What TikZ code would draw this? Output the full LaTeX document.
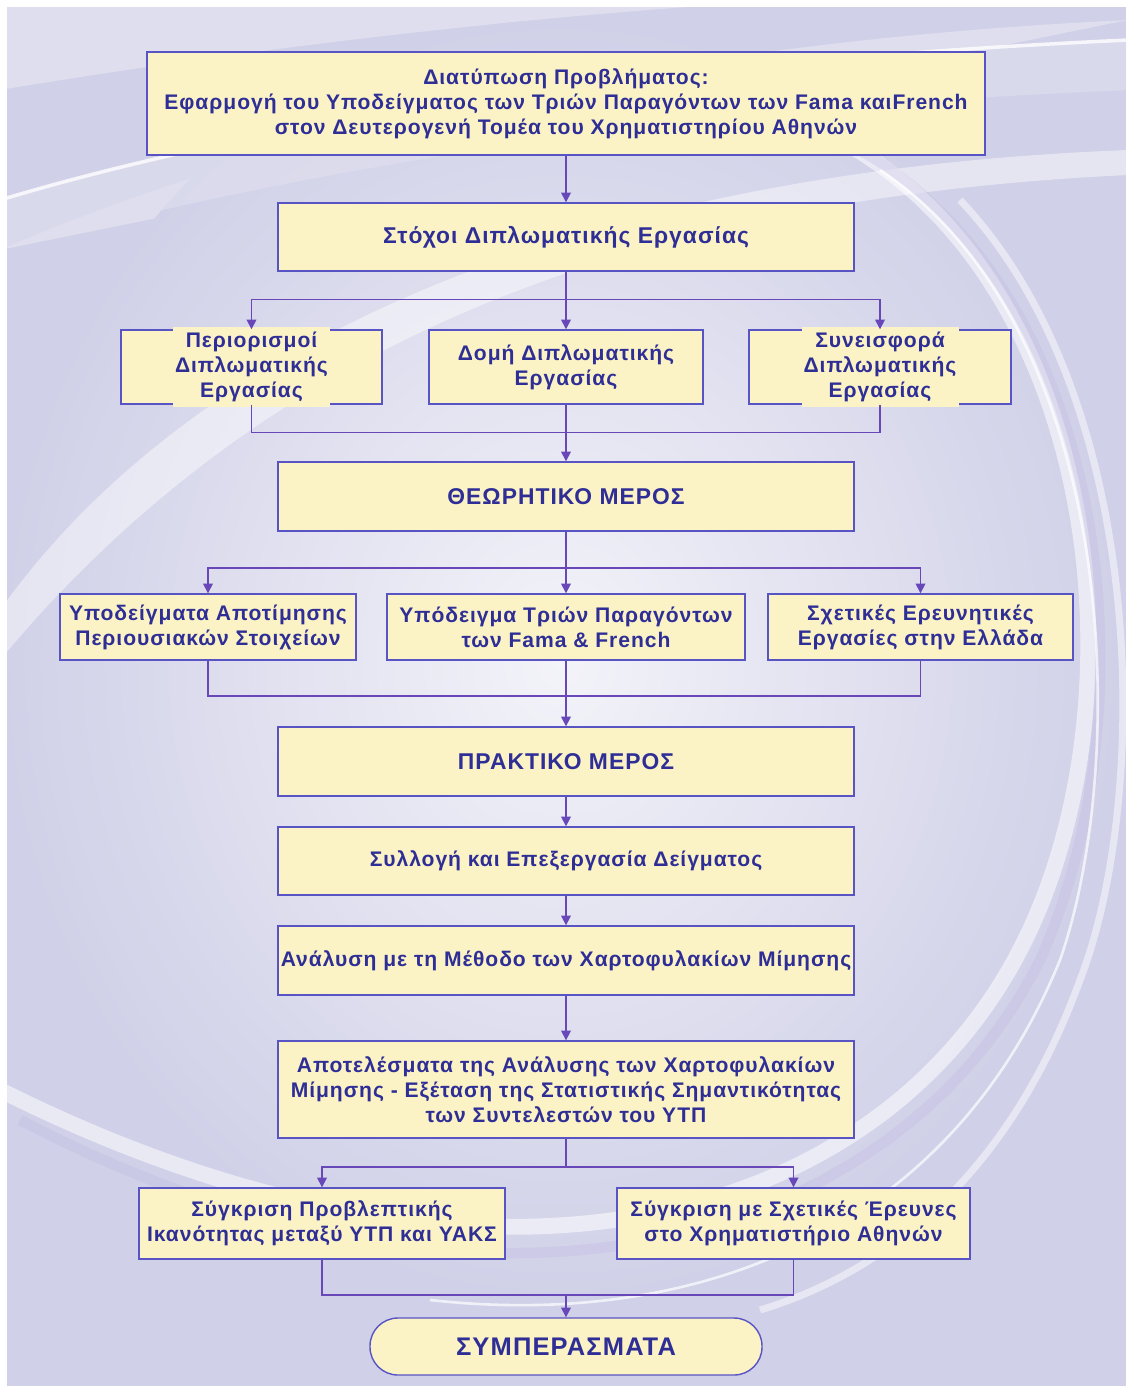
\documentclass[tikz,border=0pt]{standalone}
\usepackage{fontspec}
\usepackage{tikz}
\usetikzlibrary{positioning,arrows.meta,backgrounds}
\usepackage{xcolor}

\newfontfamily\flowfont{Liberation Sans}[LetterSpace=4.5]

\definecolor{bgbase}{RGB}{208,208,232}
\definecolor{bglight}{RGB}{222,222,238}
\definecolor{bgcentre}{RGB}{243,243,249}
\definecolor{boxfill}{RGB}{251,243,197}
\definecolor{boxline}{RGB}{88,84,196}
\definecolor{txtblue}{RGB}{46,46,150}
\definecolor{linkpurple}{RGB}{104,72,184}

\tikzset{
  box/.style={draw=boxline, fill=boxfill, line width=0.8pt, text=txtblue, align=center,
    inner sep=0pt, font=\flowfont\bfseries\fontsize{12}{14.2}\selectfont},
  titlebox/.style={box, font=\flowfont\bfseries\fontsize{13}{16}\selectfont},
  boxsize/.style 2 args={minimum width=#1*0.02cm, minimum height=#2*0.02cm},
  patch/.style={fill=boxfill, text=txtblue, align=center, inner sep=0pt,
    font=\flowfont\bfseries\fontsize{12}{14.2}\selectfont},
  link/.style={draw=linkpurple, line width=0.9pt},
  arr/.style={link, -{Triangle[length=5.5pt,width=5.5pt]}},
}

\begin{document}
\begin{tikzpicture}[x=0.02cm,y=-0.02cm]
\useasboundingbox (0,0) rectangle (1128,1386);

% background with swirls
\begin{scope}
  \clip (7,7) rectangle (1126,1386);
  \fill[bgbase] (7,7) rectangle (1126,1386);
  \fill[bglight] (0,250) .. controls (300,120) and (700,40) .. (1128,20) -- (1128,0) -- (0,0) -- (0,90)
    .. controls (300,40) and (600,10) .. (800,0) -- (1128,0) -- (1128,20) -- cycle;
  \shade[inner color=bgcentre, outer color=bgbase] (560,660) ellipse (560 and 640);
  \fill[white, opacity=0.45] (0,610) .. controls (200,330) and (600,170) .. (1128,150)
    -- (1128,175) .. controls (600,200) and (250,360) .. (0,660) -- cycle;
  \fill[bglight, opacity=0.7] (0,200) .. controls (300,110) and (700,60) .. (1128,40)
    -- (1128,90) .. controls (650,110) and (300,170) .. (0,250) -- cycle;
  \draw[white, opacity=0.8, line width=2pt] (0,200) .. controls (300,110) and (700,60) .. (1128,40);
  % big right-hand arc bands
  \draw[white, opacity=0.55, line width=9pt] (820,130) .. controls (1100,260) and (1150,700) .. (1020,950)
    .. controls (880,1220) and (500,1340) .. (0,1090);
  \draw[bgbase!85!linkpurple, opacity=0.35, line width=6pt] (860,150) .. controls (1120,300) and (1150,720) .. (1040,960)
    .. controls (900,1240) and (500,1370) .. (20,1120);
  \draw[white, opacity=0.7, line width=1.5pt] (880,170) .. controls (1120,330) and (1130,760) .. (1060,960)
    .. controls (950,1230) and (700,1330) .. (430,1300);
  \draw[white, opacity=0.5, line width=4pt] (960,200) .. controls (1150,400) and (1150,800) .. (1080,980)
    .. controls (1000,1200) and (860,1280) .. (760,1310);
\end{scope}

% boxes
\node[box, boxsize={838}{103}] (problem) at (566,103.5)
  {Διατύπωση Προβλήματος:\\Εφαρμογή του Υποδείγματος των Τριών Παραγόντων των Fama καιFrench\\στον Δευτερογενή Τομέα του Χρηματιστηρίου Αθηνών};
\node[titlebox, boxsize={576}{68}] (goals) at (566,237) {Στόχοι Διπλωματικής Εργασίας};

\node[box, boxsize={261}{74}] (limits) at (251.5,367) {};
\node[patch, boxsize={157}{80}] (limitstxt) at (251.5,367) {Περιορισμοί\\Διπλωματικής\\Εργασίας};
\node[box, boxsize={274}{74}] (structure) at (566,367) {Δομή Διπλωματικής\\Εργασίας};
\node[box, boxsize={262}{74}] (contrib) at (880,367) {};
\node[patch, boxsize={157}{80}] (contribtxt) at (880,367) {Συνεισφορά\\Διπλωματικής\\Εργασίας};

\node[titlebox, boxsize={576}{69}] (theory) at (566,496.5) {ΘΕΩΡΗΤΙΚΟ ΜΕΡΟΣ};

\node[box, boxsize={296}{66}] (pricing) at (208,627) {Υποδείγματα Αποτίμησης\\Περιουσιακών Στοιχείων};
\node[box, boxsize={358}{66}] (ffmodel) at (566,627) {Υπόδειγμα Τριών Παραγόντων\\των Fama \& French};
\node[box, boxsize={305}{66}] (related) at (920.5,627) {Σχετικές Ερευνητικές\\Εργασίες στην Ελλάδα};

\node[titlebox, boxsize={576}{69}] (practice) at (566,761.5) {ΠΡΑΚΤΙΚΟ ΜΕΡΟΣ};
\node[box, boxsize={576}{68}] (sample) at (566,861) {Συλλογή και Επεξεργασία Δείγματος};
\node[box, boxsize={576}{69}] (mimic) at (566,960.5) {Ανάλυση με τη Μέθοδο των Χαρτοφυλακίων Μίμησης};
\node[box, boxsize={576}{97}] (results) at (566,1089.5)
  {Αποτελέσματα της Ανάλυσης των Χαρτοφυλακίων\\Μίμησης - Εξέταση της Στατιστικής Σημαντικότητας\\των Συντελεστών του ΥΤΠ};

\node[box, boxsize={366}{71}] (predict) at (322,1223.5) {Σύγκριση Προβλεπτικής\\Ικανότητας μεταξύ ΥΤΠ και ΥΑΚΣ};
\node[box, boxsize={353}{71}] (athens) at (793.5,1223.5) {Σύγκριση με Σχετικές Έρευνες\\στο Χρηματιστήριο Αθηνών};

\node[titlebox, boxsize={392}{57}, rounded corners=0.56cm,
  font=\flowfont\bfseries\fontsize{14.5}{17}\selectfont] (concl) at (566,1346.5) {ΣΥΜΠΕΡΑΣΜΑΤΑ};

% connectors
\draw[arr] (problem) -- (goals);
\draw[arr] (goals.south) -- ++(0,28) -| (limits.north);
\draw[arr] (goals.south) -- ++(0,28) -| (contrib.north);
\draw[arr] (goals) -- (structure);
\draw[link] (limits.south) -- ++(0,28) -| (contrib.south);
\draw[arr] (structure) -- (theory);

\draw[arr] (theory.south) -- ++(0,36) -| (pricing.north);
\draw[arr] (theory.south) -- ++(0,36) -| (related.north);
\draw[arr] (theory) -- (ffmodel);
\draw[link] (pricing.south) -- ++(0,35) -| (related.south);
\draw[arr] (ffmodel) -- (practice);

\draw[arr] (practice) -- (sample);
\draw[arr] (sample) -- (mimic);
\draw[arr] (mimic) -- (results);

\draw[arr] (results.south) -- ++(0,28) -| (predict.north);
\draw[arr] (results.south) -- ++(0,28) -| (athens.north);
\draw[link] (predict.south) -- ++(0,35) -| (athens.south);
\coordinate (joinend) at (566,1294.5);
\draw[arr] (joinend) -- (concl);
\end{tikzpicture}
\end{document}
